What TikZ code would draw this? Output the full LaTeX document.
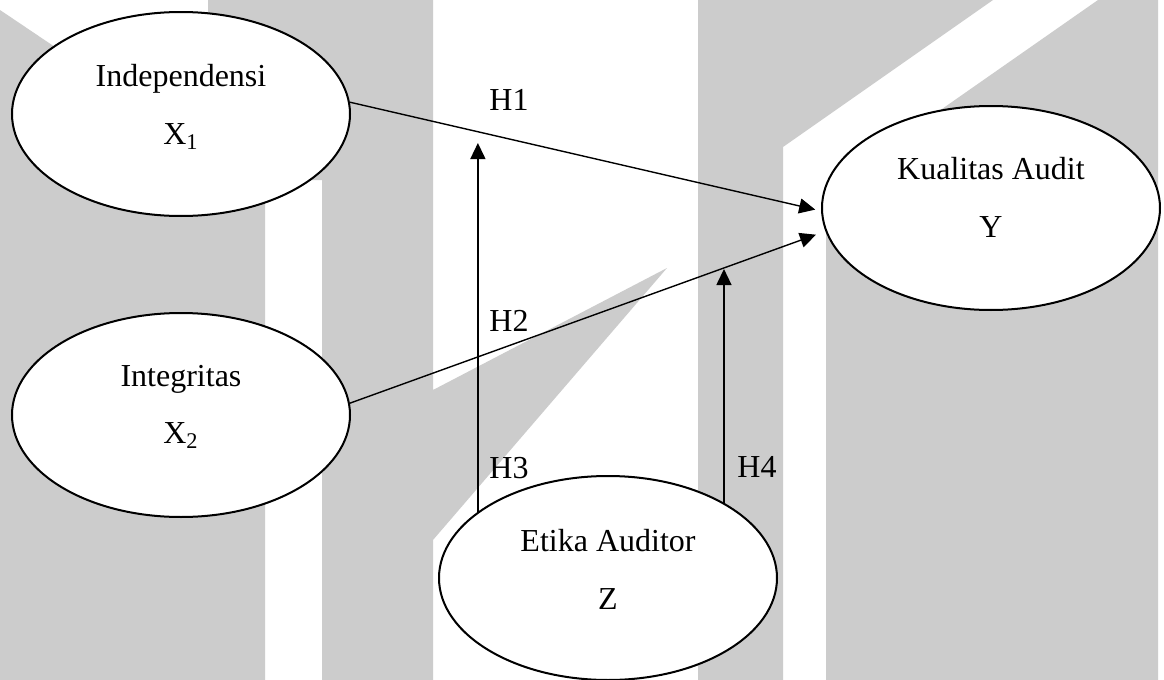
\documentclass[tikz,border=0pt]{standalone}
\usepackage{fontspec}
\setmainfont{Liberation Serif}
\usetikzlibrary{shapes.geometric,arrows.meta}
\definecolor{wmgray}{RGB}{204,204,204}

\begin{document}
\begin{tikzpicture}[x=0.5pt,y=-0.5pt,
  construct/.style={ellipse, draw=black, line width=1pt, fill=white,
    minimum width=169pt, minimum height=102pt, inner sep=0pt},
  caption/.style={anchor=base, inner sep=0pt, font=\fontsize{16}{19}\selectfont},
  hyp/.style={anchor=base west, inner sep=0pt, font=\fontsize{16}{19}\selectfont},
  link/.style={line width=0.7pt, -{Triangle[length=8pt,width=7.5pt]}},
  wmark/.style={fill=wmgray, draw=none}]

% page
\fill[white] (0,0) rectangle (1164,680);
\useasboundingbox (0,0) rectangle (1164,680);

% faint logo in the background
\fill[wmark] (0,10) -- (208,150) -- (208,0) -- (433,0) -- (433,390)
  -- (667,268) -- (433,540) -- (433,680) -- (322,680) -- (322,180)
  -- (265,180) -- (265,680) -- (0,680) -- cycle;
\fill[wmark] (698,0) -- (993,0) -- (783,147) -- (783,680) -- (698,680) -- cycle;
\fill[wmark] (1098,0) -- (1158,0) -- (1158,680) -- (826,680) -- (826,190) -- cycle;

% constructs
\node[construct] (ind) at (181,114) {};
\node[construct] (int) at (181,415) {};
\node[construct] (kua) at (991,208) {};
\node[construct] (eti) at (608,578) {};

\node[caption] (indname) at (181,86) {Independensi};
\node[caption] (indsym)  at (181,144) {X\textsubscript{1}};
\node[caption] (intname) at (181,386) {Integritas};
\node[caption] (intsym)  at (181,443) {X\textsubscript{2}};
\node[caption] (kuaname) at (991,179) {Kualitas Audit};
\node[caption] (kuasym)  at (991,237) {Y};
\node[caption] (etiname) at (608,551) {Etika Auditor};
\node[caption] (etisym)  at (608,609) {Z};

% paths
\coordinate (h3tip) at (479,143);
\coordinate (h4tip) at (722,269);
\draw[link, shorten >=3pt] (ind.4) -- (kua.181);
\draw[link, shorten >=5pt] (int.4) -- (kua.188);
\draw[link] (eti.153) -- (eti.153 |- h3tip);
\draw[link] (eti.33) -- (eti.33 |- h4tip);

% hypothesis labels
\node[hyp] (h1) at (489,110) {H1};
\node[hyp] (h2) at (489,331) {H2};
\node[hyp] (h3) at (489,478) {H3};
\node[hyp] (h4) at (737,477) {H4};
\end{tikzpicture}
\end{document}
